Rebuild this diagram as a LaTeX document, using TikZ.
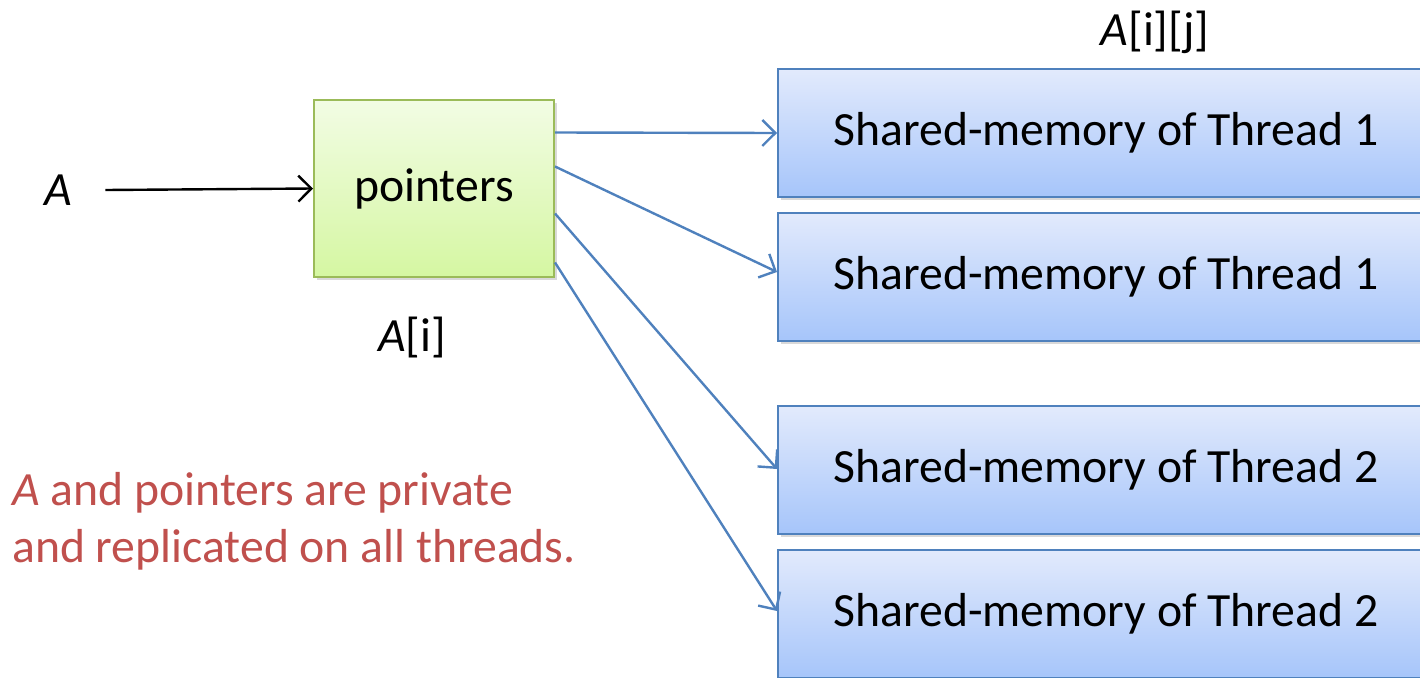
\documentclass[tikz,border=0pt]{standalone}
\usepackage{fontspec}
\setmainfont{Carlito}
\usepackage{xcolor}
\usepackage{tikz}
\usetikzlibrary{arrows.meta,positioning,shadows}
\definecolor{ptrline}{HTML}{9BBB59}
\definecolor{ptrtop}{HTML}{F2FCE4}
\definecolor{ptrbot}{HTML}{D5F7A2}
\definecolor{shmline}{HTML}{4F81BD}
\definecolor{shmtop}{HTML}{E2EAFC}
\definecolor{shmbot}{HTML}{A6C5FA}
\definecolor{notered}{HTML}{C0504D}

\begin{document}
\begin{tikzpicture}[x=1pt, y=-1pt,
  every node/.style={font=\fontsize{47.7}{57}\selectfont},
  ptrbox/.style={draw=ptrline, line width=2pt, top color=ptrtop, bottom color=ptrbot, minimum width=240pt, minimum height=177pt, drop shadow={opacity=0.3, shadow xshift=3pt, shadow yshift=-3pt}},
  shmbox/.style={draw=shmline, line width=2pt, top color=shmtop, bottom color=shmbot, minimum width=644pt, minimum height=128pt, drop shadow={opacity=0.3, shadow xshift=3pt, shadow yshift=-3pt}},
  ptrarrow/.style={-{Straight Barb[length=13pt, width=26pt]}, line width=2.4pt, draw=shmline},
  inarrow/.style={-{Straight Barb[length=13pt, width=26pt]}, line width=2.4pt}
]
\useasboundingbox (0,0) rectangle (1420,677);
\node (a) at (58,190) {\textit{A}};
\node[ptrbox] (ptr) at (434,188.5) {\raisebox{-3pt}{pointers}};
\node (ai) at (412,338) {\textit{A}[i]};
\node[shmbox] (shm1) at (1100,133) {\hspace*{12pt}Shared-memory of Thread 1};
\node[shmbox, below=14pt of shm1] (shm2) {\hspace*{12pt}Shared-memory of Thread 1};
\node[shmbox, below=63pt of shm2] (shm3) {\hspace*{12pt}Shared-memory of Thread 2};
\node[shmbox, below=14pt of shm3] (shm4) {\hspace*{12pt}Shared-memory of Thread 2};
\node (aij) at (1155,32) {\textit{A}[i][j]};
\node[text=notered, align=left, anchor=north west, inner sep=0pt] (note) at (12,472)
  {\textit{A} and pointers are private\\and replicated on all threads.};
% arrows
\draw[inarrow] ([xshift=30pt]a.east) -- (ptr.west);
\draw[ptrarrow] ([yshift=56pt]ptr.east) -- (shm1.west);
\draw[ptrarrow] ([yshift=22pt]ptr.east) -- ([yshift=5pt]shm2.west);
\draw[ptrarrow] ([yshift=-25pt]ptr.east) -- ([yshift=1pt]shm3.west);
\draw[ptrarrow] ([yshift=-74pt]ptr.east) -- ([yshift=3pt]shm4.west);
\end{tikzpicture}
\end{document}
